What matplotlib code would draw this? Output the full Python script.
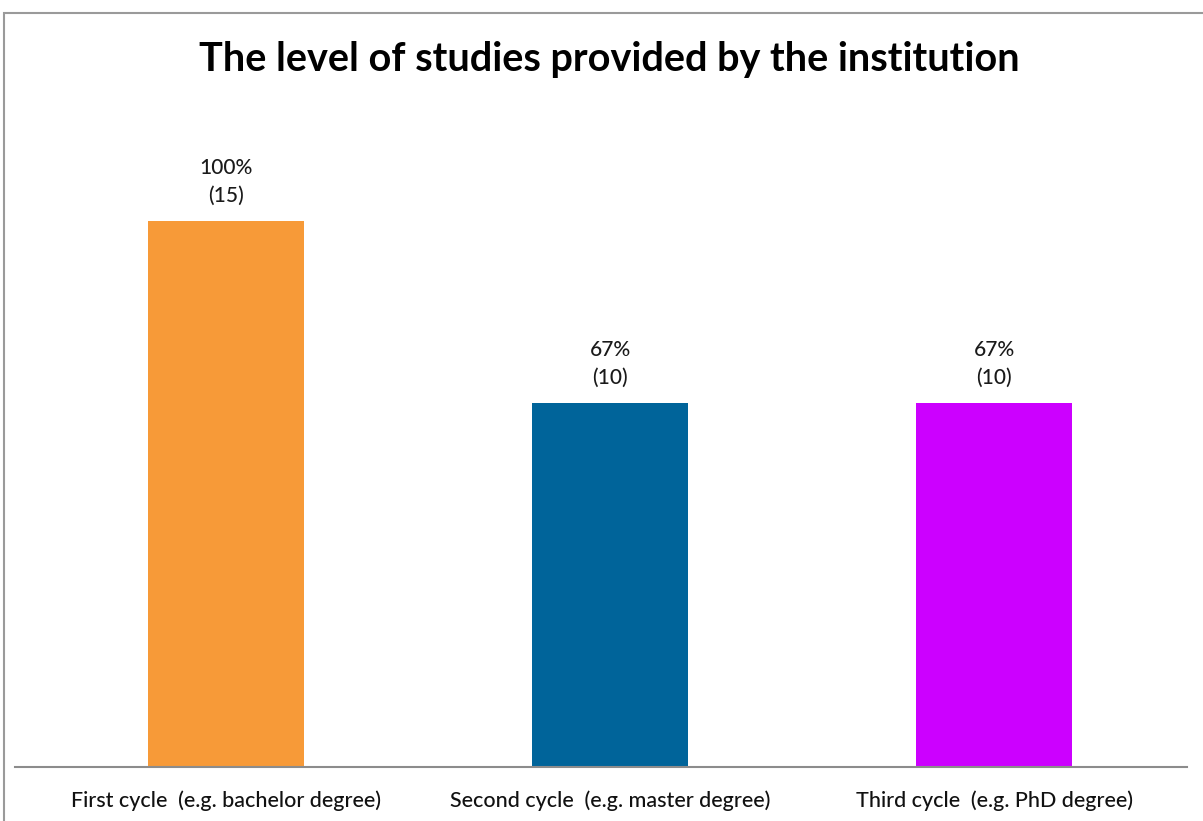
import matplotlib
matplotlib.use("Agg")
import matplotlib.pyplot as plt
from matplotlib.patches import Rectangle

# ----------------------
# Datos
# ----------------------
categories = ["First cycle  (e.g. bachelor degree)",
              "Second cycle  (e.g. master degree)",
              "Third cycle  (e.g. PhD degree)"]
counts = [15, 10, 10]
percents = [100, 67, 67]
colors = ["#F79A38", "#00649A", "#CC00FF"]

W, H = 1203, 821
fig = plt.figure(figsize=(W / 100, H / 100), dpi=100)
plt.rcParams["font.family"] = ["Lato", "DejaVu Sans"]

# marco gris del gráfico
fig.patches.append(Rectangle((4 / W, -0.1), 1.2, 1 - 13 / H + 0.1,
                             transform=fig.transFigure, fill=False,
                             edgecolor="#9a9a9a", linewidth=1.5))

# ejes: base en y=767 px, x de 15 a 1187 px
left, right = 15, 1187
bottom, top = 767, 100
ax = fig.add_axes([left / W, 1 - bottom / H, (right - left) / W, (bottom - top) / H])

x = list(range(len(categories)))
ax.bar(x, counts, width=0.406, color=colors, zorder=2)

ax.set_xlim((left - 226) / 384, (right - 226) / 384)
ax.set_ylim(0, 15 * (bottom - top) / (bottom - 221))

for xi, c, p in zip(x, counts, percents):
    ax.text(xi, c + 0.42, f"{p}%\n({c})", ha="center", va="bottom",
            fontsize=15, color="#1a1a1a", linespacing=1.5, fontweight="medium")

ax.set_xticks(x)
ax.set_xticklabels(categories, fontsize=15.5, color="#111111", fontweight="medium")
ax.tick_params(axis="x", length=0, pad=17)
ax.set_yticks([])
for s in ["top", "right", "left"]:
    ax.spines[s].set_visible(False)
ax.spines["bottom"].set_color("#8c8c8c")
ax.spines["bottom"].set_linewidth(1.5)
ax.patch.set_alpha(0)

fig.text(609 / W, 1 - 59 / H, "The level of studies provided by the institution",
         ha="center", va="center", fontsize=28.5, fontweight="bold", color="black")

fig.savefig("out.png", dpi=100)
